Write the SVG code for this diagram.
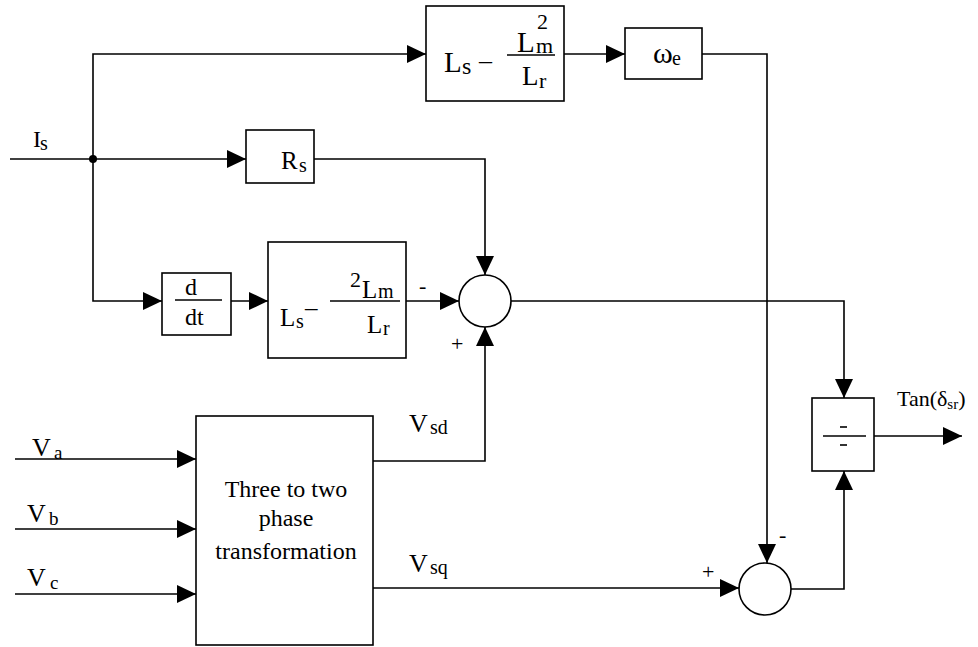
<svg xmlns="http://www.w3.org/2000/svg" width="978" height="647" viewBox="0 0 978 647" font-family="'Liberation Serif', 'DejaVu Serif', serif">
<style>
.b{fill:none;stroke:#000;stroke-width:1.6}
.c{fill:none;stroke:#000;stroke-width:1.6}
text{font-family:'Liberation Serif','DejaVu Serif',serif;fill:#000}
.s{font-size:20px}
</style>
<defs>
<marker id="ah" viewBox="0 0 19 18" refX="19" refY="9" markerWidth="19" markerHeight="18" markerUnits="userSpaceOnUse" orient="auto">
<path d="M0,0 L19,9 L0,18 z" fill="#000"/>
</marker>
</defs>
<rect width="978" height="647" fill="#fff"/>
<g id="connectors">
<path class="c" d="M10,159 H246" marker-end="url(#ah)"/>
<path class="c" d="M93,159 V54 H426" marker-end="url(#ah)"/>
<path class="c" d="M93,159 V301 H162" marker-end="url(#ah)"/>
<path class="c" d="M231,301 H268" marker-end="url(#ah)"/>
<path class="c" d="M406,301 H459" marker-end="url(#ah)"/>
<path class="c" d="M314,159 H485 V275" marker-end="url(#ah)"/>
<path class="c" d="M373,461 H485 V327" marker-end="url(#ah)"/>
<path class="c" d="M511,301 H844 V398" marker-end="url(#ah)"/>
<path class="c" d="M564,54 H625" marker-end="url(#ah)"/>
<path class="c" d="M702,54 H767 V563" marker-end="url(#ah)"/>
<path class="c" d="M373,588 H739" marker-end="url(#ah)"/>
<path class="c" d="M791,589 H844 V471" marker-end="url(#ah)"/>
<path class="c" d="M874,436 H962" marker-end="url(#ah)"/>
<path class="c" d="M15,459 H196" marker-end="url(#ah)"/>
<path class="c" d="M15,529 H196" marker-end="url(#ah)"/>
<path class="c" d="M15,594 H196" marker-end="url(#ah)"/>
<circle cx="93" cy="159" r="4" fill="#000"/>
</g>
<g id="label-Is"><text x="33" y="147" font-size="24">I</text><text x="40" y="150" class="s">s</text></g>
<g id="block-top">
<rect class="b" x="426" y="6" width="138" height="95"/>
<text x="444" y="72" font-size="29">L</text><text x="462" y="74" font-size="24">s</text>
<text x="479" y="69" font-size="26">–</text>
<line class="b" x1="507" y1="55" x2="555" y2="55"/>
<text x="517" y="52" font-size="29">L</text><text x="536" y="53" font-size="22">m</text>
<text x="537" y="29" font-size="22">2</text>
<text x="522" y="85" font-size="27">L</text><text x="539" y="88" font-size="22">r</text>
</g>
<g id="block-we">
<rect class="b" x="625" y="28" width="77" height="51"/>
<text x="653" y="63" font-size="30">ω</text><text x="672" y="65" class="s">e</text>
</g>
<g id="block-Rs">
<rect class="b" x="246" y="130" width="68" height="53"/>
<text x="281" y="169" font-size="25">R</text><text x="299" y="172" class="s">s</text>
</g>
<g id="block-ddt">
<rect class="b" x="162" y="273" width="69" height="62"/>
<text x="185" y="295" font-size="24">d</text>
<line class="b" x1="175" y1="300" x2="222" y2="300"/>
<text x="185" y="325" font-size="24">dt</text>
</g>
<g id="block-mid">
<rect class="b" x="268" y="242" width="138" height="116"/>
<text x="280" y="326" font-size="25">L</text><text x="296" y="328" class="s">s</text>
<text x="305" y="316" font-size="25">–</text>
<line class="b" x1="330" y1="301" x2="400" y2="301"/>
<text x="350" y="287" font-size="22">2</text>
<text x="362" y="298" font-size="25">L</text><text x="378" y="298" class="s">m</text>
<text x="367" y="333" font-size="25">L</text><text x="383" y="335" class="s">r</text>
</g>
<g id="sum1">
<circle class="b" cx="485" cy="301" r="26"/>
<text x="419" y="293" font-size="22">-</text>
<text x="451" y="351" font-size="22">+</text>
</g>
<g id="block-3to2">
<rect class="b" x="196" y="416" width="177" height="229"/>
<text x="286" y="497" font-size="24" text-anchor="middle">Three to two</text>
<text x="286" y="526" font-size="24" text-anchor="middle">phase</text>
<text x="286" y="559" font-size="24" text-anchor="middle">transformation</text>
</g>
<g id="label-V">
<text x="32" y="456" font-size="26">V</text><text x="54" y="459" font-size="19">a</text>
<text x="27" y="522" font-size="26">V</text><text x="49" y="525" font-size="19">b</text>
<text x="27" y="586" font-size="26">V</text><text x="50" y="589" font-size="19">c</text>
<text x="409" y="432" font-size="26">V</text><text x="430" y="434" class="s">sd</text>
<text x="409" y="572" font-size="26">V</text><text x="430" y="574" class="s">sq</text>
</g>
<g id="sum2">
<circle class="b" cx="765" cy="589" r="26"/>
<text x="779" y="542" font-size="22">-</text>
<text x="702" y="579" font-size="22">+</text>
</g>
<g id="block-div">
<rect class="b" x="812" y="398" width="62" height="73"/>
<line class="b" x1="840" y1="427" x2="847" y2="427"/>
<line class="b" x1="823" y1="436" x2="866" y2="436"/>
<line class="b" x1="840" y1="445" x2="847" y2="445"/>
</g>
<g id="label-tan"><text x="897" y="406" font-size="22">Tan(δ<tspan font-size="15" dy="3">sr</tspan><tspan dy="-3">)</tspan></text></g>
</svg>
